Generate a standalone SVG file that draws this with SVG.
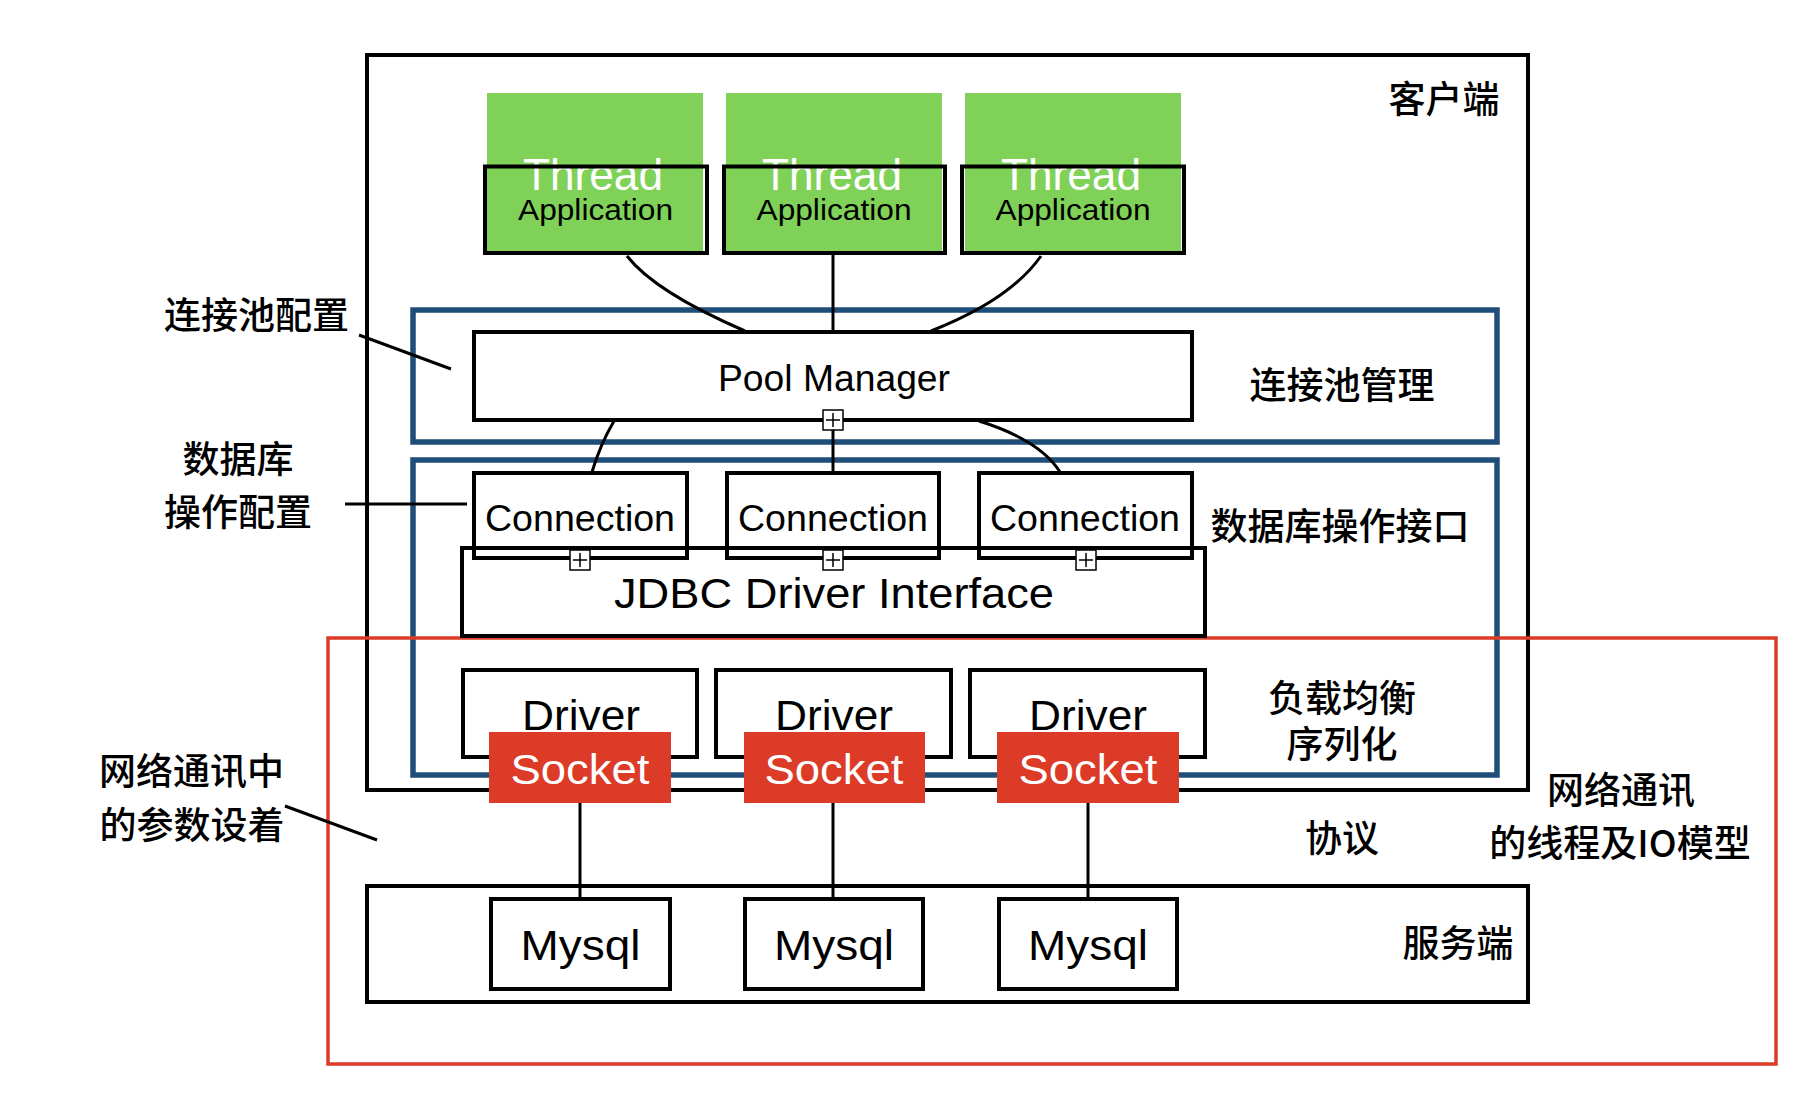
<svg xmlns="http://www.w3.org/2000/svg" width="1818" height="1106" viewBox="0 0 1818 1106">
<style>
.box{fill:none;stroke:#000;stroke-width:4}
.blue{fill:none;stroke:#1f4e7a;stroke-width:5.5}
.red{fill:none;stroke:#dc3b27;stroke-width:3.5}
.green{fill:#7fd257}
.sock{fill:#dc3b27}
.line{fill:none;stroke:#000;stroke-width:3}
.en{font-family:"Liberation Sans",Arial,sans-serif;text-anchor:middle;fill:#000}
.wt{fill:#fff}
.cn{font-family:"Noto Sans CJK SC",sans-serif;font-size:37px;font-weight:500;text-anchor:middle;fill:#000}
.plus{fill:#fff;stroke:#000;stroke-width:1.5}
</style>
<defs>
<g id="plusbox">
<rect class="plus" x="-10" y="-10" width="20" height="20"/>
<path d="M-7,0H7M0,-7V7" stroke="#000" stroke-width="1.5"/>
</g>
</defs>
<rect width="1818" height="1106" fill="#fff"/>

<g id="client">
<rect class="box" x="367" y="55" width="1161" height="735"/>
<text class="cn" x="1444" y="113">客户端</text>
</g>
<g id="pool-area">
<rect class="blue" x="413" y="310" width="1084" height="132"/>
<text class="cn" x="1342" y="399">连接池管理</text>
</g>
<g id="db-area">
<rect class="blue" x="413" y="460" width="1084" height="315"/>
<text class="cn" x="1340" y="540">数据库操作接口</text>
<text class="cn" x="1342" y="712">负载均衡</text>
<text class="cn" x="1342" y="758">序列化</text>
</g>
<g id="network-area">
<rect class="red" x="328" y="638" width="1448" height="426"/>
<text class="cn" x="1342" y="852">协议</text>
<text class="cn" x="1621" y="804">网络通讯</text>
<text class="cn" x="1620" y="857">的线程及IO模型</text>
</g>

<g id="thread1">
<rect class="green" x="487" y="93" width="216" height="159"/>
<text class="en wt" x="593" y="190" font-size="44" textLength="140" lengthAdjust="spacingAndGlyphs">Thread</text>
<rect class="box" x="485" y="166.5" width="222" height="86.5"/>
<text class="en" x="595.5" y="220" font-size="30" textLength="155" lengthAdjust="spacingAndGlyphs">Application</text>
</g>
<g id="thread2">
<rect class="green" x="726" y="93" width="216" height="159"/>
<text class="en wt" x="832" y="190" font-size="44" textLength="140" lengthAdjust="spacingAndGlyphs">Thread</text>
<rect class="box" x="724" y="166.5" width="221" height="86.5"/>
<text class="en" x="834" y="220" font-size="30" textLength="155" lengthAdjust="spacingAndGlyphs">Application</text>
</g>
<g id="thread3">
<rect class="green" x="965" y="93" width="216" height="159"/>
<text class="en wt" x="1071" y="190" font-size="44" textLength="140" lengthAdjust="spacingAndGlyphs">Thread</text>
<rect class="box" x="962" y="166.5" width="222" height="86.5"/>
<text class="en" x="1073" y="220" font-size="30" textLength="155" lengthAdjust="spacingAndGlyphs">Application</text>
</g>

<g id="connectors">
<path class="line" d="M627,256 Q655,292 745,331"/>
<path class="line" d="M833,254 V332"/>
<path class="line" d="M1041,256 Q1010,300 931,331"/>
<path class="line" d="M614,421 Q600,445 592,472"/>
<path class="line" d="M833,430 V472"/>
<path class="line" d="M979,421 Q1040,440 1060,472"/>
<path class="line" d="M580,803 V899"/>
<path class="line" d="M833,803 V899"/>
<path class="line" d="M1088,803 V899"/>
<path class="line" d="M359,335 L451,369"/>
<path class="line" d="M345,504 H467"/>
<path class="line" d="M285,806 L377,840"/>
</g>

<g id="pool-manager">
<rect class="box" x="474" y="332" width="718" height="88"/>
<text class="en" x="834" y="391" font-size="36" textLength="232" lengthAdjust="spacingAndGlyphs">Pool Manager</text>
<use href="#plusbox" x="833" y="420"/>
</g>

<g id="connection1">
<rect class="box" x="474" y="473" width="213" height="85"/>
<text class="en" x="580" y="531" font-size="37" textLength="190" lengthAdjust="spacingAndGlyphs">Connection</text>
</g>
<g id="connection2">
<rect class="box" x="727" y="473" width="212" height="85"/>
<text class="en" x="833" y="531" font-size="37" textLength="190" lengthAdjust="spacingAndGlyphs">Connection</text>
</g>
<g id="connection3">
<rect class="box" x="979" y="473" width="213" height="85"/>
<text class="en" x="1085" y="531" font-size="37" textLength="190" lengthAdjust="spacingAndGlyphs">Connection</text>
</g>

<g id="jdbc">
<rect class="box" x="462" y="548" width="743" height="88"/>
<text class="en" x="834" y="608" font-size="42" textLength="440" lengthAdjust="spacingAndGlyphs">JDBC Driver Interface</text>
<use href="#plusbox" x="580" y="560"/>
<use href="#plusbox" x="833" y="560"/>
<use href="#plusbox" x="1086" y="560"/>
</g>

<g id="driver1">
<rect class="box" x="463" y="670" width="234" height="87"/>
<text class="en" x="581" y="730" font-size="42" textLength="118" lengthAdjust="spacingAndGlyphs">Driver</text>
</g>
<g id="driver2">
<rect class="box" x="716" y="670" width="235" height="87"/>
<text class="en" x="834" y="730" font-size="42" textLength="118" lengthAdjust="spacingAndGlyphs">Driver</text>
</g>
<g id="driver3">
<rect class="box" x="970" y="670" width="235" height="87"/>
<text class="en" x="1088" y="730" font-size="42" textLength="118" lengthAdjust="spacingAndGlyphs">Driver</text>
</g>

<g id="socket1">
<rect class="sock" x="489" y="732" width="182" height="71"/>
<text class="en wt" x="580" y="784" font-size="43" textLength="139" lengthAdjust="spacingAndGlyphs">Socket</text>
</g>
<g id="socket2">
<rect class="sock" x="744" y="732" width="181" height="71"/>
<text class="en wt" x="834" y="784" font-size="43" textLength="139" lengthAdjust="spacingAndGlyphs">Socket</text>
</g>
<g id="socket3">
<rect class="sock" x="997" y="732" width="182" height="71"/>
<text class="en wt" x="1088" y="784" font-size="43" textLength="139" lengthAdjust="spacingAndGlyphs">Socket</text>
</g>

<g id="server">
<rect class="box" x="367" y="886" width="1161" height="116"/>
<text class="cn" x="1458" y="957">服务端</text>
</g>
<g id="mysql1">
<rect class="box" x="491" y="899" width="179" height="90"/>
<text class="en" x="580.5" y="960" font-size="43" textLength="120" lengthAdjust="spacingAndGlyphs">Mysql</text>
</g>
<g id="mysql2">
<rect class="box" x="745" y="899" width="178" height="90"/>
<text class="en" x="834" y="960" font-size="43" textLength="120" lengthAdjust="spacingAndGlyphs">Mysql</text>
</g>
<g id="mysql3">
<rect class="box" x="999" y="899" width="178" height="90"/>
<text class="en" x="1088" y="960" font-size="43" textLength="120" lengthAdjust="spacingAndGlyphs">Mysql</text>
</g>

<g id="notes">
<text class="cn" x="256.5" y="329">连接池配置</text>
<text class="cn" x="238" y="473">数据库</text>
<text class="cn" x="238" y="526">操作配置</text>
<text class="cn" x="191.5" y="785">网络通讯中</text>
<text class="cn" x="192" y="839">的参数设着</text>
</g>
</svg>
